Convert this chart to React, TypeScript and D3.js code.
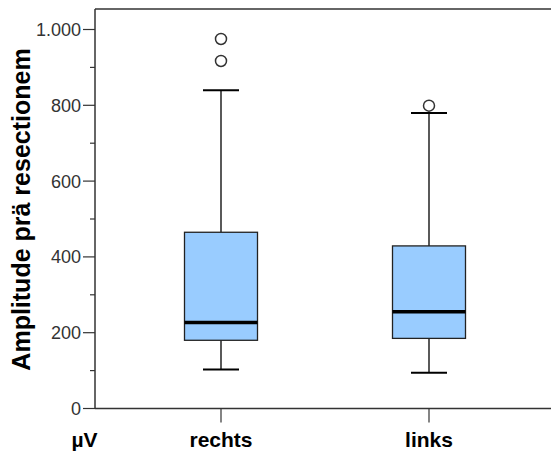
import React from "react";
import * as d3 from "d3";

const categories = ["rechts", "links"];
const whiskerLow = [103, 94];
const q1 = [180, 185];
const median = [227, 255];
const q3 = [465, 429];
const whiskerHigh = [840, 780];
const outliers = [[975, 917], [799]];
const majorTicks = [0, 200, 400, 600, 800, 1000];
const minorTicks = [100, 300, 500, 700, 900];

const W = 551;
const H = 453;

export default function App() {
  const y = d3.scaleLinear().domain([0, 1000]).range([408.5, 29.5]);
  const x = d3.scalePoint<string>().domain(categories).range([221, 429]);
  const axisX = 95;
  const topY = 9;
  const boxW = 73;
  const capW = 36;
  const fmt = (v: number) => d3.format(",")(v).replace(/,/g, ".");
  const font = "'Liberation Sans', Arial, sans-serif";

  return (
    <svg width={W} height={H} style={{ position: "absolute", left: 0, top: 0 }} fontFamily={font}>
      <rect x={0} y={0} width={W} height={H} fill="#fff" />
      {/* frame */}
      <line x1={axisX} y1={topY} x2={W} y2={topY} stroke="#333" strokeWidth={1.5} />
      <line x1={axisX} y1={topY} x2={axisX} y2={y(0)} stroke="#333" strokeWidth={1.5} />
      <line x1={axisX} y1={y(0)} x2={W} y2={y(0)} stroke="#333" strokeWidth={1.5} />
      {majorTicks.map((t) => (
        <g key={"M" + t}>
          <line x1={axisX - 12} x2={axisX} y1={y(t)} y2={y(t)} stroke="#333" strokeWidth={1.2} />
          <text x={81} y={y(t)} dy="0.36em" textAnchor="end" fontSize={18} fill="#333">
            {fmt(t)}
          </text>
        </g>
      ))}
      {minorTicks.map((t) => (
        <line key={"m" + t} x1={axisX - 5} x2={axisX} y1={y(t)} y2={y(t)} stroke="#333" strokeWidth={1.2} />
      ))}
      {categories.map((c) => (
        <g key={"t" + c}>
          <line x1={x(c)!} x2={x(c)!} y1={y(0)} y2={y(0) + 14} stroke="#333" strokeWidth={1.2} />
          <text x={x(c)!} y={447} textAnchor="middle" fontSize={21} fontWeight="bold" fill="#000">
            {c}
          </text>
        </g>
      ))}
      <text x={84.5} y={447} textAnchor="middle" fontSize={21} fontWeight="bold" fill="#000">
        µV
      </text>
      <text
        transform={`translate(30, ${209.5}) rotate(-90)`}
        textAnchor="middle"
        fontSize={25}
        fontWeight="bold"
        fill="#000"
      >
        Amplitude prä resectionem
      </text>
      {categories.map((c, i) => {
        const cx = x(c)!;
        return (
          <g key={"b" + c}>
            <line x1={cx} x2={cx} y1={y(whiskerLow[i])} y2={y(q1[i])} stroke="#000" strokeWidth={1.3} />
            <line x1={cx} x2={cx} y1={y(q3[i])} y2={y(whiskerHigh[i])} stroke="#000" strokeWidth={1.3} />
            <line x1={cx - capW / 2} x2={cx + capW / 2} y1={y(whiskerLow[i])} y2={y(whiskerLow[i])} stroke="#000" strokeWidth={2} />
            <line x1={cx - capW / 2} x2={cx + capW / 2} y1={y(whiskerHigh[i])} y2={y(whiskerHigh[i])} stroke="#000" strokeWidth={2} />
            <rect
              x={cx - boxW / 2}
              y={y(q3[i])}
              width={boxW}
              height={y(q1[i]) - y(q3[i])}
              fill="#99CCFF"
              stroke="#222"
              strokeWidth={1.3}
            />
            <line x1={cx - boxW / 2} x2={cx + boxW / 2} y1={y(median[i])} y2={y(median[i])} stroke="#000" strokeWidth={3.5} />
            {outliers[i].map((o, j) => (
              <circle key={j} cx={cx} cy={y(o)} r={5.5} fill="#fff" stroke="#333" strokeWidth={1.5} />
            ))}
          </g>
        );
      })}
    </svg>
  );
}
